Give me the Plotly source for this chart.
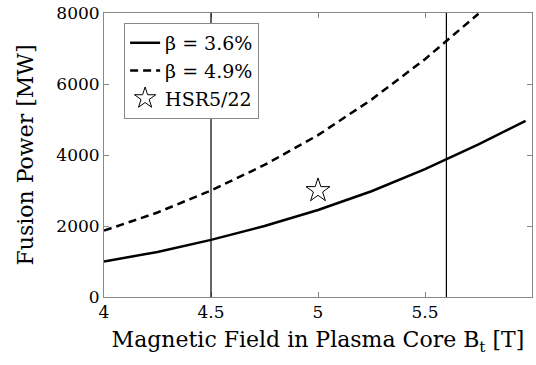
import plotly.graph_objects as go

b_field = [4.0, 4.25, 4.5, 4.75, 5.0, 5.25, 5.5, 5.75, 5.97]
power_36 = [1000, 1270, 1610, 2000, 2450, 2980, 3600, 4300, 4960]
b_field_49 = [4.0, 4.25, 4.5, 4.75, 5.0, 5.25, 5.5, 5.75]
power_49 = [1870, 2380, 3000, 3720, 4560, 5560, 6700, 7980]
hsr_b = [5.0]
hsr_p = [3000]
vlines = [4.5, 5.6]

font = "DejaVu Serif"
fig = go.Figure()
fig.add_trace(go.Scatter(x=b_field, y=power_36, mode="lines", name="β = 3.6%",
                         line=dict(color="black", width=2.5)))
fig.add_trace(go.Scatter(x=b_field_49, y=power_49, mode="lines", name="β = 4.9%",
                         line=dict(color="black", width=2.5, dash="8px,5px")))
fig.add_trace(go.Scatter(x=hsr_b, y=hsr_p, mode="markers", name="HSR5/22",
                         marker=dict(symbol="star-open", size=18, color="black",
                                     line=dict(width=1, color="black"))))
for v in vlines:
    fig.add_shape(type="line", x0=v, x1=v, y0=0, y1=1, yref="paper",
                  line=dict(color="black", width=1.2))

axis_common = dict(showgrid=False, zeroline=False, ticks="inside", ticklen=5,
                   tickcolor="#888", linecolor="#888", linewidth=1, mirror="ticks",
                   showline=True, tickfont=dict(family=font, size=17, color="black"))
fig.update_xaxes(range=[4, 6], tickvals=[4, 4.5, 5, 5.5, 6],
                 ticktext=["4", "4.5", "5", "5.5", "6"],
                 title=dict(text="Magnetic Field in Plasma Core B<sub>t</sub> [T]",
                            font=dict(family=font, size=22, color="black"), standoff=10),
                 **axis_common)
fig.update_yaxes(range=[0, 8000], tickvals=[0, 2000, 4000, 6000, 8000],
                 title=dict(text="Fusion Power [MW]",
                            font=dict(family=font, size=22, color="black"), standoff=16),
                 **axis_common)
fig.update_layout(width=536, height=365, margin=dict(l=104, r=4, t=13, b=68),
                  paper_bgcolor="white", plot_bgcolor="white",
                  legend=dict(x=0.047, y=0.965, xanchor="left", yanchor="top",
                              bordercolor="#888", borderwidth=1, bgcolor="white",
                              font=dict(family=font, size=19, color="black"),
                              tracegroupgap=0, itemwidth=30),
                  showlegend=True)
fig.write_html("out.html")
